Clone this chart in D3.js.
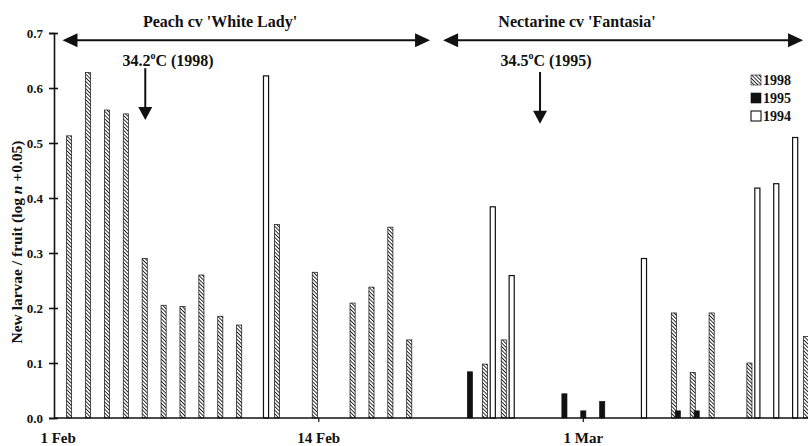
<!DOCTYPE html>
<html>
<head>
<meta charset="utf-8">
<script src="https://cdn.jsdelivr.net/npm/d3@7"></script>
<style>
  body { margin: 0; background: #fff; }
  svg { display: block; font-family: "Liberation Serif", "Times New Roman", serif; font-weight: bold; }
</style>
</head>
<body>
<svg id="chart" width="808" height="446"></svg>
<script>
// ---- data ----
const days = d3.range(0, 40); // day index from 1 Feb
const series = ["1998", "1995", "1994"];
const v1998 = [0.513, 0.628, 0.560, 0.553, 0.290, 0.205, 0.203, 0.260, 0.185, 0.169,
               null, 0.352, null, 0.265, null, 0.209, 0.238, 0.347, 0.142, null,
               null, null, 0.098, 0.142, null, null, null, null, null, null,
               null, null, 0.191, 0.083, 0.191, null, 0.100, null, null, 0.148];
const v1995 = [null, null, null, null, null, null, null, null, null, null,
               null, null, null, null, null, null, null, null, null, null,
               null, 0.084, null, null, null, null, 0.044, 0.013, 0.030, null,
               null, null, 0.013, 0.013, null, null, null, null, null, null];
const v1994 = [null, null, null, null, null, null, null, null, null, null,
               0.622, null, null, null, null, null, null, null, null, null,
               null, null, 0.384, 0.259, null, null, null, null, null, null,
               0.290, null, null, null, null, null, 0.418, 0.426, 0.510, null];
const yTicks = [0.0, 0.1, 0.2, 0.3, 0.4, 0.5, 0.6, 0.7];
const xTickLabels = ["1 Feb", "14 Feb", "1 Mar"];
const xTickDays = [-0.58, 13, 27];

// ---- layout ----
const svg = d3.select("#chart");
const x = d3.scaleLinear().domain([-0.8, 39.1]).range([54, 808]);
const y = d3.scaleLinear().domain([0, 0.7]).range([418, 33]);
const seriesOffset = d3.scaleOrdinal().domain(series).range([0, 0.21, 0.42]);
const barW = x(0.27) - x(0);
const groupCenter = 0.21;

// hatch pattern
const defs = svg.append("defs");
const pat = defs.append("pattern").attr("id", "hatch").attr("patternUnits", "userSpaceOnUse")
  .attr("width", 2.6).attr("height", 2.6).attr("patternTransform", "rotate(-45)");
pat.append("rect").attr("width", 2.6).attr("height", 2.6).attr("fill", "#fff");
pat.append("line").attr("x1", 0).attr("y1", 0).attr("x2", 0).attr("y2", 2.6)
  .attr("stroke", "#1a1a1a").attr("stroke-width", 1.8);

const fills = { "1998": "url(#hatch)", "1995": "#111", "1994": "#fff" };
const valuesBySeries = { "1998": v1998, "1995": v1995, "1994": v1994 };

// bars
series.forEach(s => {
  const data = days.map((d, i) => ({ day: d, v: valuesBySeries[s][i] })).filter(d => d.v != null);
  svg.append("g").selectAll("rect").data(data).join("rect")
    .attr("x", d => x(d.day + seriesOffset(s)) - barW / 2)
    .attr("y", d => y(d.v))
    .attr("width", barW)
    .attr("height", d => y(0) - y(d.v))
    .attr("fill", fills[s])
    .attr("stroke", "#111")
    .attr("stroke-width", s === "1994" ? 1.2 : 0.7);
});

// y axis
const yAxis = d3.axisLeft(y).tickValues(yTicks).tickFormat(d3.format(".1f")).tickSize(5).tickPadding(6);
const gy = svg.append("g").attr("transform", `translate(${x.range()[0]},0)`).call(yAxis);
gy.select(".domain").attr("stroke", "#111").attr("stroke-width", 1.6);
gy.selectAll(".tick line").attr("stroke", "#111").attr("stroke-width", 1.6).attr("x2", 4).attr("x1", -5);
gy.selectAll(".tick text").attr("font-family", "Liberation Serif, serif").attr("font-weight", "bold")
  .attr("font-size", 13).attr("fill", "#111");

// x axis
svg.append("line").attr("x1", x.range()[0]).attr("x2", x.range()[1]).attr("y1", y(0)).attr("y2", y(0))
  .attr("stroke", "#111").attr("stroke-width", 1.4);
const gx = svg.append("g");
xTickLabels.forEach((lab, i) => {
  const px = x(xTickDays[i] + (i === 0 ? 0 : groupCenter));
  if (i > 0) gx.append("line").attr("x1", px).attr("x2", px).attr("y1", y(0)).attr("y2", y(0) + 4)
    .attr("stroke", "#111").attr("stroke-width", 1.2);
  gx.append("text").attr("x", px).attr("y", 443).attr("text-anchor", "middle")
    .attr("font-size", 15).attr("fill", "#111").text(lab);
});

// y title
const yt = svg.append("text").attr("transform", `translate(22,${242}) rotate(-90)`)
  .attr("text-anchor", "middle").attr("font-size", 15.5).attr("fill", "#111");
yt.append("tspan").text("New larvae / fruit (log ");
yt.append("tspan").attr("font-style", "italic").text("n");
yt.append("tspan").text(" +0.05)");

// section arrows
function dblArrow(d0, d1, v) {
  const x0 = x(d0), x1 = x(d1), yy = y(v);
  svg.append("line").attr("x1", x0 + 10).attr("x2", x1 - 10).attr("y1", yy).attr("y2", yy)
    .attr("stroke", "#111").attr("stroke-width", 2);
  svg.append("path").attr("d", `M${x0},${yy} L${x0 + 15},${yy - 7} L${x0 + 15},${yy + 7} Z`).attr("fill", "#111");
  svg.append("path").attr("d", `M${x1},${yy} L${x1 - 15},${yy - 7} L${x1 - 15},${yy + 7} Z`).attr("fill", "#111");
}
dblArrow(-0.35, 19.1, 0.687);
dblArrow(19.79, 38.84, 0.687);
svg.append("text").attr("x", 220).attr("y", 27).attr("text-anchor", "middle").attr("font-size", 16)
  .attr("fill", "#111").text("Peach cv 'White Lady'");
svg.append("text").attr("x", 577).attr("y", 27).attr("text-anchor", "middle").attr("font-size", 16)
  .attr("fill", "#111").text("Nectarine cv 'Fantasia'");

// temperature arrows
function tempArrow(day, label, year, cx, topV, tipV) {
  const px = x(day), y0 = y(topV), y1 = y(tipV);
  svg.append("line").attr("x1", px).attr("x2", px).attr("y1", y0).attr("y2", y1 - 12)
    .attr("stroke", "#111").attr("stroke-width", 2);
  svg.append("path").attr("d", `M${px},${y1} L${px - 7},${y1 - 13} L${px + 7},${y1 - 13} Z`).attr("fill", "#111");
  const t = svg.append("text").attr("x", cx).attr("y", 66).attr("text-anchor", "middle")
    .attr("font-size", 16).attr("fill", "#111");
  t.append("tspan").text(label);
  t.append("tspan").attr("font-size", 10).attr("dy", -7).text("o");
  t.append("tspan").attr("dy", 7).text("C (" + year + ")");
}
tempArrow(4.03, "34.2", "1998", 168, 0.636, 0.542);
tempArrow(24.92, "34.5", "1995", 546, 0.629, 0.535);

// legend
const lg = svg.append("g").attr("transform", "translate(751,75)");
series.forEach((s, i) => {
  const g = lg.append("g").attr("transform", `translate(0,${i * 18})`);
  g.append("rect").attr("width", 10).attr("height", 10).attr("fill", fills[s])
    .attr("stroke", "#111").attr("stroke-width", s === "1994" ? 1.1 : 0.6);
  g.append("text").attr("x", 12).attr("y", 10).attr("font-size", 14).attr("fill", "#111").text(s);
});
</script>
</body>
</html>
